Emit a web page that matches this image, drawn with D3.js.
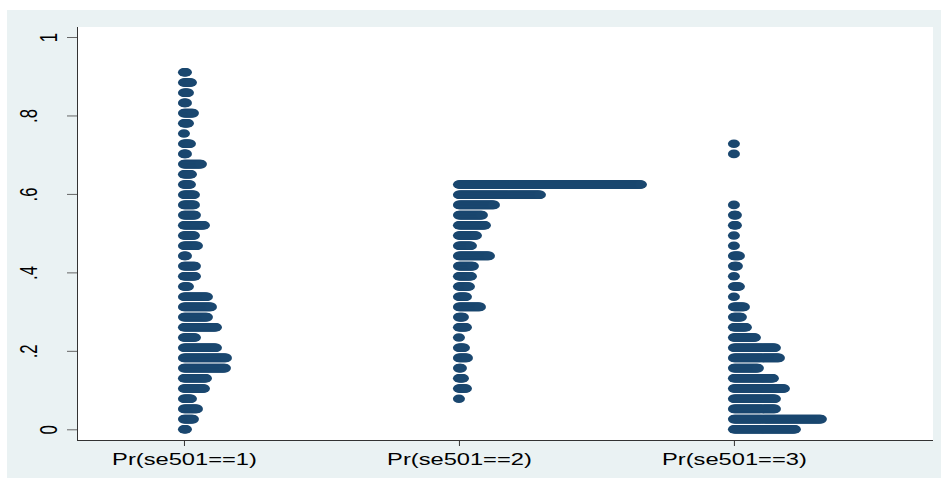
<!DOCTYPE html>
<html>
<head>
<meta charset="utf-8">
<script src="https://cdn.jsdelivr.net/npm/d3@7"></script>
<style>
  html, body { margin: 0; padding: 0; background: #ffffff; }
  svg { display: block; }
  text { font-family: "Liberation Sans", Arial, sans-serif; }
</style>
</head>
<body>
<div id="chart"></div>
<script>
// ---------------- data ----------------
const categories = ["Pr(se501==1)", "Pr(se501==2)", "Pr(se501==3)"];
const categoryPos = [1, 2, 3];

// bin midpoints (predicted probability)
const binValues = [0, .026, .052, .078, .104, .130, .156, .182, .208, .234,
                   .260, .286, .312, .338, .364, .390, .416, .442, .468, .494,
                   .520, .546, .572, .598, .624, .650, .676, .702, .728, .754,
                   .780, .806, .832, .858, .884, .910];

// number of observations per bin
const countsPr1 = [3, 10, 14, 8, 21, 23, 42, 43, 33, 12,
                   33, 24, 28, 24, 5, 12, 12, 3, 14, 11,
                   21, 12, 11, 11, 7, 8, 18, 3, 7, 1,
                   5, 10, 3, 5, 8, 3];
const countsPr2 = [0, 0, 0, 1, 8, 5, 3, 9, 6, 1,
                   8, 5, 22, 8, 11, 13, 15, 31, 13, 18,
                   27, 24, 36, 82, 183, 0, 0, 0, 0, 0,
                   0, 0, 0, 0, 0, 0];
const countsPr3 = [62, 88, 42, 42, 51, 40, 25, 46, 42, 22,
                   13, 8, 11, 1, 6, 1, 4, 6, 1, 1,
                   3, 3, 1, 0, 0, 0, 0, 1, 1, 0,
                   0, 0, 0, 0, 0, 0];
const seriesCounts = [countsPr1, countsPr2, countsPr3];

const yTicks = [0, .2, .4, .6, .8, 1];
const yTickLabels = ["0", ".2", ".4", ".6", ".8", "1"];

// ---------------- chart ----------------
const W = 947, H = 480;
const plot = { left: 77, right: 933, top: 27, bottom: 440 };
const stretch = 1.41;           // horizontal stretch of the original image
const dotColor = "#1a476f";

const svg = d3.select("#chart").append("svg")
  .attr("width", W).attr("height", H);

svg.append("rect").attr("x", 0).attr("y", 0).attr("width", W).attr("height", H).attr("fill", "#ffffff");
svg.append("rect").attr("x", 7).attr("y", 10).attr("width", 934).attr("height", 468).attr("fill", "#eaf2f3");
svg.append("rect").attr("x", plot.left).attr("y", plot.top)
  .attr("width", plot.right - plot.left).attr("height", plot.bottom - plot.top).attr("fill", "#ffffff");

const x = d3.scaleLinear().domain([0.611, 3.724]).range([plot.left, plot.right]);
const y = d3.scaleLinear().domain([0, 1]).range([429.3, 37]);
// horizontal offset of successive dots in a bin (pixels per observation)
const dotOffset = d3.scaleLinear().domain([0, 100]).range([0, 100]);

const rx = 6, ry = 4.3;

const dots = [];
seriesCounts.forEach((counts, s) => {
  counts.forEach((n, b) => {
    for (let i = 0; i < n; i++) dots.push({ s, b, i });
  });
});

svg.append("g").selectAll("ellipse").data(dots).join("ellipse")
  .attr("cx", d => x(categoryPos[d.s]) + dotOffset(d.i))
  .attr("cy", d => y(binValues[d.b]))
  .attr("rx", rx).attr("ry", ry)
  .attr("fill", dotColor);

// ---------- axes ----------
const axisColor = "#333333";

// y axis
const gy = svg.append("g").attr("transform", `translate(${plot.left},0)`)
  .call(d3.axisLeft(y).tickValues(yTicks).tickSize(10).tickSizeOuter(0)
    .tickFormat((d, i) => yTickLabels[i]));
gy.select(".domain").remove();
gy.selectAll(".tick line").attr("stroke", "#666666").attr("stroke-width", 1);
gy.selectAll(".tick text")
  .attr("x", null).attr("dy", null).attr("y", null)
  .attr("text-anchor", "middle")
  .attr("font-size", 16.8)
  .attr("fill", "#000")
  .attr("transform", (d, i) => {
    const base = yTickLabels[i].length === 1 ? -20 : -40;
    return `translate(${base},0) scale(${stretch},1) rotate(-90)`;
  });
svg.append("line")
  .attr("x1", plot.left + 0.5).attr("x2", plot.left + 0.5)
  .attr("y1", plot.top).attr("y2", plot.bottom)
  .attr("stroke", axisColor).attr("stroke-width", 1);

// x axis
const gx = svg.append("g").attr("transform", `translate(0,${plot.bottom})`)
  .call(d3.axisBottom(x).tickValues(categoryPos).tickSize(6).tickSizeOuter(0)
    .tickFormat((d, i) => categories[i]));
gx.select(".domain").remove();
gx.selectAll(".tick line").attr("stroke", axisColor);
gx.selectAll(".tick text")
  .attr("y", null).attr("dy", null)
  .attr("font-size", 16.8)
  .attr("fill", "#000")
  .attr("text-anchor", "middle")
  .attr("transform", `translate(0,24.5) scale(${stretch},1)`);
svg.append("line")
  .attr("x1", plot.left).attr("x2", plot.right)
  .attr("y1", plot.bottom + 0.5).attr("y2", plot.bottom + 0.5)
  .attr("stroke", axisColor).attr("stroke-width", 1);
</script>
</body>
</html>
